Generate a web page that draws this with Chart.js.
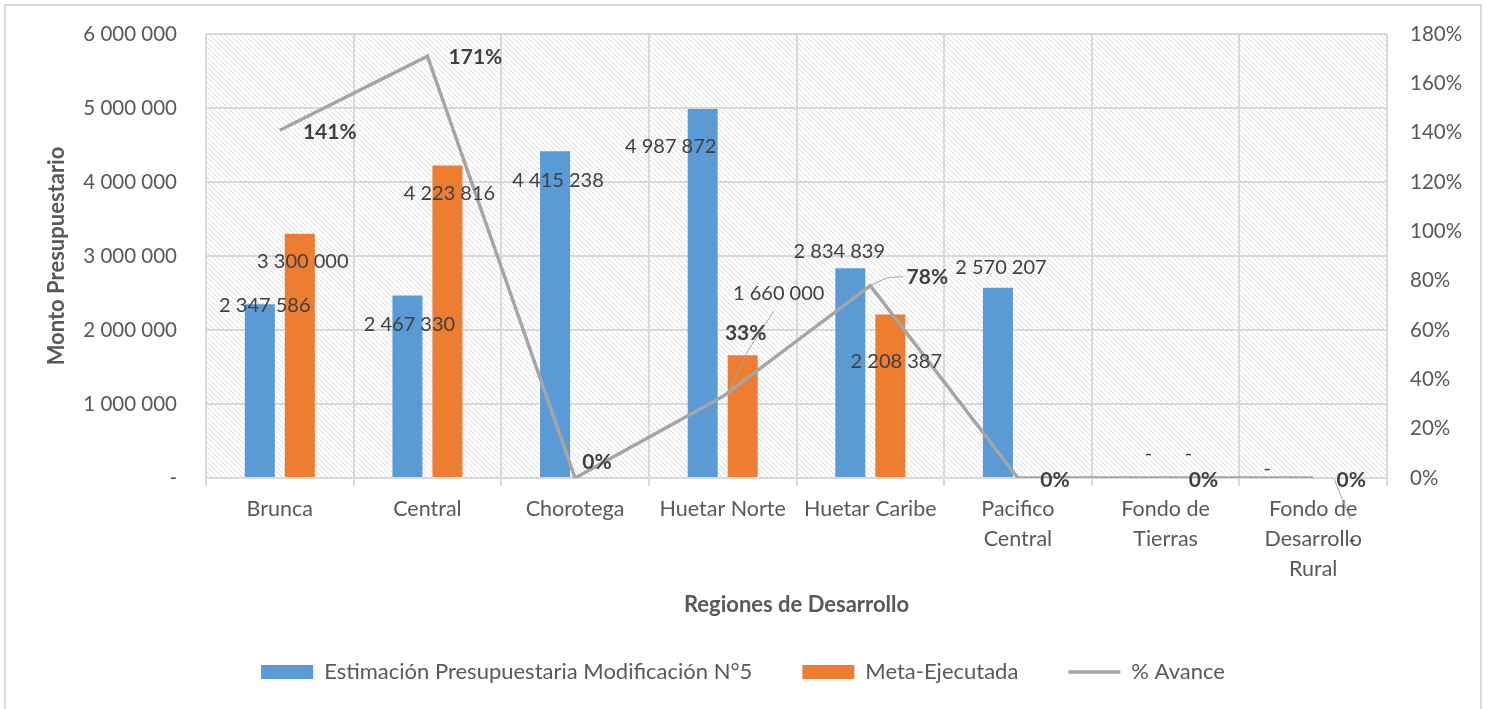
<!DOCTYPE html>
<html>
<head>
<meta charset="utf-8">
<script src="https://cdn.jsdelivr.net/npm/chart.js@4.4.1/dist/chart.umd.min.js"></script>
<style>
  body { margin: 0; background: #fff; }
  #wrap { position: relative; width: 1486px; height: 709px; }
  #frame { position: absolute; left: 4px; top: 4px; width: 1474px; height: 710px;
           border: 2px solid #d9d9d9; pointer-events: none; }
</style>
</head>
<body>
<div id="wrap">
  <canvas id="chart" width="1486" height="709"></canvas>
  <div id="frame"></div>
</div>
<script>
const categories = ["Brunca", "Central", "Chorotega", "Huetar Norte", "Huetar Caribe",
  ["Pacifico", "Central"], ["Fondo de", "Tierras"], ["Fondo de", "Desarrollo", "Rural"]];
const estimacion = [2347586, 2467330, 4415238, 4987872, 2834839, 2570207, 0, 0];
const ejecutada = [3300000, 4223816, null, 1660000, 2208387, null, 0, 0];
const avance = [141, 171, 0, 33, 78, 0, 0, 0];
const leftTicks = [0, 1000000, 2000000, 3000000, 4000000, 5000000, 6000000];
const rightTicks = [0, 20, 40, 60, 80, 100, 120, 140, 160, 180];

const BLUE = "#5B9BD5";
const ORANGE = "#ED7D31";
const GRAY = "#A5A5A5";
const TXT = "#595959";
const LBL = "#404040";
const GRID = "#d9d9d9";
const FONT = "Lato";

// where Excel put each data label, relative to its bar top / line point
const labelOffsets = [
  [[5, 1], [2, 29], [3, 29], [-32, 38], [-11, -17], [3, -20], [3, -24], [-26, -9]],
  [[3, 28], [2, 28], null, [36, -62], [6, 47], null, [3, -24], [19, 62]],
  [[50, 2], [48, 1], [22, -16], [23, -63], [57, -8], [37, 2], [38, 2], [38, 2]]
];
// leader lines: [dataset, index, points relative to the element]
const leaders = [
  [1, 3, [[31, -44], [5, -4], [-15, 39]]],
  [2, 4, [[33, -9], [17, -8], [0, 0]]],
  [1, 7, [[1, 1], [17, 41]]]
];

function fmt(v) {
  if (v === 0) return "-";
  return String(v).replace(/\B(?=(\d{3})+(?!\d))/g, " ");
}

function hatch() {
  const c = document.createElement("canvas");
  c.width = 5; c.height = 5;
  const g = c.getContext("2d");
  g.fillStyle = "#fff";
  g.fillRect(0, 0, 5, 5);
  g.fillStyle = "#dcdcdc";
  for (let i = 0; i < 5; i++) {
    g.fillRect(i, i, 1, 1);
  }
  return c;
}

function noPad(s) {
  s.paddingTop = 0;
  s.paddingBottom = 0;
}

const background = {
  id: "background",
  beforeDraw(chart) {
    const {ctx, chartArea: a} = chart;
    ctx.save();
    ctx.fillStyle = "#fff";
    ctx.fillRect(0, 0, chart.width, chart.height);
    ctx.fillStyle = ctx.createPattern(hatch(), "repeat");
    ctx.fillRect(a.left, a.top, a.right - a.left, a.bottom - a.top);
    ctx.restore();
  }
};

const dataLabels = {
  id: "dataLabels",
  afterDatasetsDraw(chart) {
    const ctx = chart.ctx;
    ctx.save();
    ctx.strokeStyle = GRAY;
    ctx.lineWidth = 1;
    leaders.forEach(([d, i, pts]) => {
      const el = chart.getDatasetMeta(d).data[i];
      ctx.beginPath();
      pts.forEach((p, k) => {
        if (k === 0) ctx.moveTo(el.x + p[0], el.y + p[1]);
        else ctx.lineTo(el.x + p[0], el.y + p[1]);
      });
      ctx.stroke();
    });
    ctx.textAlign = "center";
    ctx.textBaseline = "middle";
    ctx.fillStyle = LBL;
    chart.data.datasets.forEach((ds, d) => {
      const meta = chart.getDatasetMeta(d);
      ds.data.forEach((v, i) => {
        const off = labelOffsets[d][i];
        if (v === null || !off) return;
        const el = meta.data[i];
        const text = d === 2 ? v + "%" : fmt(v);
        ctx.font = (d === 2 ? "bold 21px " : "20px ") + FONT;
        ctx.fillText(text, el.x + off[0], el.y + off[1]);
      });
    });
    ctx.restore();
  }
};

new Chart(document.getElementById("chart"), {
  type: "bar",
  data: {
    labels: categories,
    datasets: [
      {
        label: "Estimación Presupuestaria Modificación N°5",
        data: estimacion,
        backgroundColor: BLUE,
        categoryPercentage: 0.542,
        barPercentage: 0.75,
        yAxisID: "y",
        order: 1
      },
      {
        label: "Meta-Ejecutada",
        data: ejecutada,
        backgroundColor: ORANGE,
        categoryPercentage: 0.542,
        barPercentage: 0.75,
        yAxisID: "y",
        order: 1
      },
      {
        type: "line",
        label: "% Avance",
        data: avance,
        borderColor: GRAY,
        backgroundColor: GRAY,
        borderWidth: 3.5,
        pointRadius: 0,
        tension: 0,
        yAxisID: "y1",
        order: 0
      }
    ]
  },
  options: {
    responsive: false,
    animation: false,
    layout: { padding: { top: 34, left: 0, right: 0, bottom: 16 } },
    plugins: {
      tooltip: { enabled: false },
      legend: {
        position: "bottom",
        labels: {
          font: { family: FONT, size: 22 },
          color: TXT,
          padding: 50,
          usePointStyle: true,
          pointStyleWidth: 52,
          boxHeight: 14,
          generateLabels(chart) {
            return chart.data.datasets.map((ds, i) => ({
              text: ds.label,
              fillStyle: ds.type === "line" ? GRAY : ds.backgroundColor,
              strokeStyle: ds.type === "line" ? GRAY : "rgba(0,0,0,0)",
              lineWidth: ds.type === "line" ? 3.5 : 0,
              pointStyle: ds.type === "line" ? "line" : "rect",
              fontColor: TXT,
              datasetIndex: i,
              hidden: false
            }));
          }
        }
      }
    },
    scales: {
      x: {
        afterFit(s) { s.height = 133; },
        grid: { color: GRID, lineWidth: 2, offset: true, tickLength: 8, drawTicks: true },
        border: { color: GRID, width: 2 },
        ticks: {
          color: TXT,
          font: { family: FONT, size: 21.5, lineHeight: "30px" },
          padding: 8,
          maxRotation: 0,
          autoSkip: false
        },
        title: {
          display: true,
          text: "Regiones de Desarrollo",
          color: TXT,
          font: { family: FONT, size: 22, weight: "bold" },
          padding: { top: 0, bottom: -7 }
        }
      },
      y: {
        position: "left",
        min: 0,
        max: 6000000,
        afterFit(s) { s.width = 206; noPad(s); },
        afterBuildTicks(s) { s.ticks = leftTicks.map(v => ({ value: v })); },
        grid: { color: GRID, lineWidth: 2, drawTicks: false },
        border: { display: false },
        ticks: {
          color: TXT,
          font: { family: FONT, size: 20.5 },
          padding: 29,
          callback: v => fmt(v)
        },
        title: {
          display: true,
          text: "Monto Presupuestario",
          color: TXT,
          font: { family: FONT, size: 22, weight: "bold" },
          padding: { top: 44, bottom: 0 }
        }
      },
      y1: {
        position: "right",
        min: 0,
        max: 180,
        afterFit(s) { s.width = 99; noPad(s); },
        afterBuildTicks(s) { s.ticks = rightTicks.map(v => ({ value: v })); },
        grid: { display: false, drawTicks: false },
        border: { display: false },
        ticks: {
          color: TXT,
          font: { family: FONT, size: 20.5 },
          padding: 23,
          callback: v => v + "%"
        }
      }
    }
  },
  plugins: [background, dataLabels]
});
</script>
</body>
</html>
